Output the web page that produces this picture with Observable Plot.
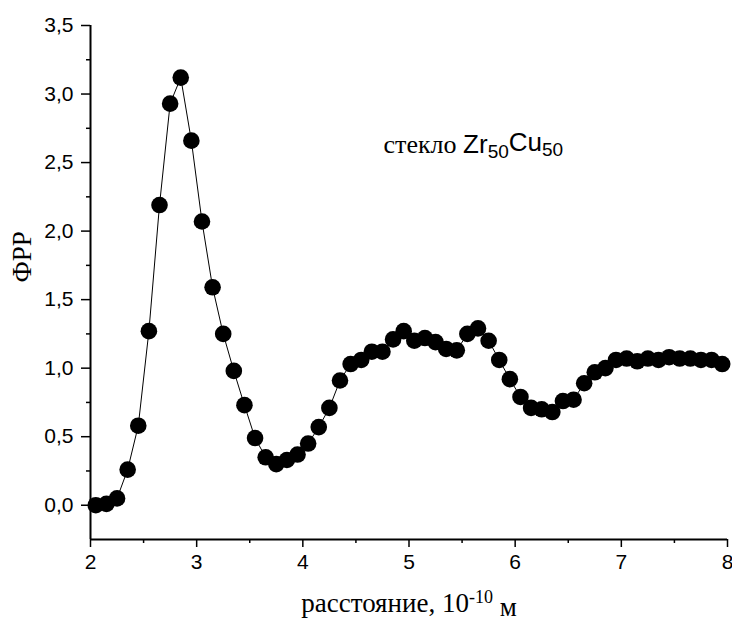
<!DOCTYPE html>
<html>
<head>
<meta charset="utf-8">
<script src="https://cdn.jsdelivr.net/npm/d3@7"></script>
<script src="https://cdn.jsdelivr.net/npm/@observablehq/plot@0.6"></script>
<style>
  html, body { margin: 0; padding: 0; background: #fff; }
</style>
</head>
<body>
<div id="chart"></div>
<script>
// distance, 10^-10 m
const distance = [
  2.05, 2.15, 2.25, 2.35, 2.45, 2.55, 2.65, 2.75, 2.85, 2.95,
  3.05, 3.15, 3.25, 3.35, 3.45, 3.55, 3.65, 3.75, 3.85, 3.95,
  4.05, 4.15, 4.25, 4.35, 4.45, 4.55, 4.65, 4.75, 4.85, 4.95,
  5.05, 5.15, 5.25, 5.35, 5.45, 5.55, 5.65, 5.75, 5.85, 5.95,
  6.05, 6.15, 6.25, 6.35, 6.45, 6.55, 6.65, 6.75, 6.85, 6.95,
  7.05, 7.15, 7.25, 7.35, 7.45, 7.55, 7.65, 7.75, 7.85, 7.95
];
// RDF values (ФРР)
const rdf = [
  0.00, 0.01, 0.05, 0.26, 0.58, 1.27, 2.19, 2.93, 3.12, 2.66,
  2.07, 1.59, 1.25, 0.98, 0.73, 0.49, 0.35, 0.30, 0.33, 0.37,
  0.45, 0.57, 0.71, 0.91, 1.03, 1.06, 1.12, 1.12, 1.21, 1.27,
  1.20, 1.22, 1.19, 1.14, 1.13, 1.25, 1.29, 1.20, 1.06, 0.92,
  0.79, 0.71, 0.70, 0.68, 0.76, 0.77, 0.89, 0.97, 1.00, 1.06,
  1.07, 1.05, 1.07, 1.06, 1.08, 1.07, 1.07, 1.06, 1.06, 1.03
];
const xTicks = [2, 3, 4, 5, 6, 7, 8];
const xMinorTicks = [2.5, 3.5, 4.5, 5.5, 6.5, 7.5];
const yTicks = [0, 0.5, 1, 1.5, 2, 2.5, 3, 3.5];
const yMinorTicks = [0.25, 0.75, 1.25, 1.75, 2.25, 2.75, 3.25];
const xDomain = [2, 8];
const yDomain = [-0.25, 3.5];
const xTitle = "расстояние, 10";
const xTitleSup = "-10";
const xTitleUnit = " м";
const yTitle = "ФРР";
const noteWord = "стекло ";
const noteParts = [["Zr", "50"], ["Cu", "50"]];
const noteX = 4.76, noteY = 2.57;

const data = distance.map((d, i) => ({x: d, y: rdf[i]}));
const comma = d => d.toFixed(1).replace(".", ",");

const serif = "'Liberation Serif', 'Times New Roman', serif";
const sans = "'Liberation Sans', Arial, sans-serif";

const chart = Plot.plot({
  width: 732,
  height: 621,
  marginLeft: 90,
  marginRight: 5,
  marginTop: 25,
  marginBottom: 82,
  style: {fontFamily: sans, fontSize: "21px", color: "#000", background: "#fff"},
  x: {domain: xDomain, label: null},
  y: {domain: yDomain, label: null},
  marks: [
    Plot.axisX(xTicks, {tickSize: 8, tickPadding: 7, tickFormat: d => String(d), strokeWidth: 1.5, fontSize: 21, label: null}),
    Plot.axisX(xMinorTicks, {tickSize: 4, tickFormat: () => "", strokeWidth: 1.5, label: null}),
    Plot.axisY(yTicks, {tickSize: 9, tickPadding: 8, tickFormat: comma, strokeWidth: 1.5, fontSize: 21, label: null}),
    Plot.axisY(yMinorTicks, {tickSize: 4, tickFormat: () => "", strokeWidth: 1.5, label: null}),
    Plot.ruleX([xDomain[0]], {stroke: "#000", strokeWidth: 2}),
    Plot.ruleY([yDomain[0]], {stroke: "#000", strokeWidth: 2}),
    Plot.line(data, {x: "x", y: "y", stroke: "#000", strokeWidth: 1}),
    Plot.dot(data, {x: "x", y: "y", r: 8.3, fill: "#000", stroke: "none"}),
    Plot.text([xTitle], {frameAnchor: "bottom", dy: 72, fontSize: 27, fontFamily: serif, className: "xtitle", lineAnchor: "bottom"}),
    Plot.text([yTitle], {frameAnchor: "left", dx: -68, rotate: -90, fontSize: 27, fontFamily: serif}),
    Plot.text([noteWord], {x: () => noteX, y: () => noteY, textAnchor: "start", lineAnchor: "bottom", fontSize: 26, fontFamily: serif, className: "note"})
  ]
});

// rich text: superscript in x title
{
  const t = d3.select(chart).select("g.xtitle text");
  t.text(null);
  t.append("tspan").text(xTitle);
  t.append("tspan").attr("dy", "-0.5em").attr("font-size", "18px").text(xTitleSup);
  t.append("tspan").attr("dy", "0.5em").text(xTitleUnit);
}
// rich text: chemical formula with subscripts in the note
{
  const t = d3.select(chart).select("g.note text");
  t.text(null);
  t.append("tspan").text(noteWord);
  noteParts.forEach(([el, sub], i) => {
    t.append("tspan").attr("font-family", sans).attr("font-size", "26px").attr("dy", i === 0 ? null : "-0.28em").text(el);
    t.append("tspan").attr("font-family", sans).attr("font-size", "19px").attr("dy", "0.28em").text(sub);
  });
}

document.getElementById("chart").appendChild(chart);
</script>
</body>
</html>
